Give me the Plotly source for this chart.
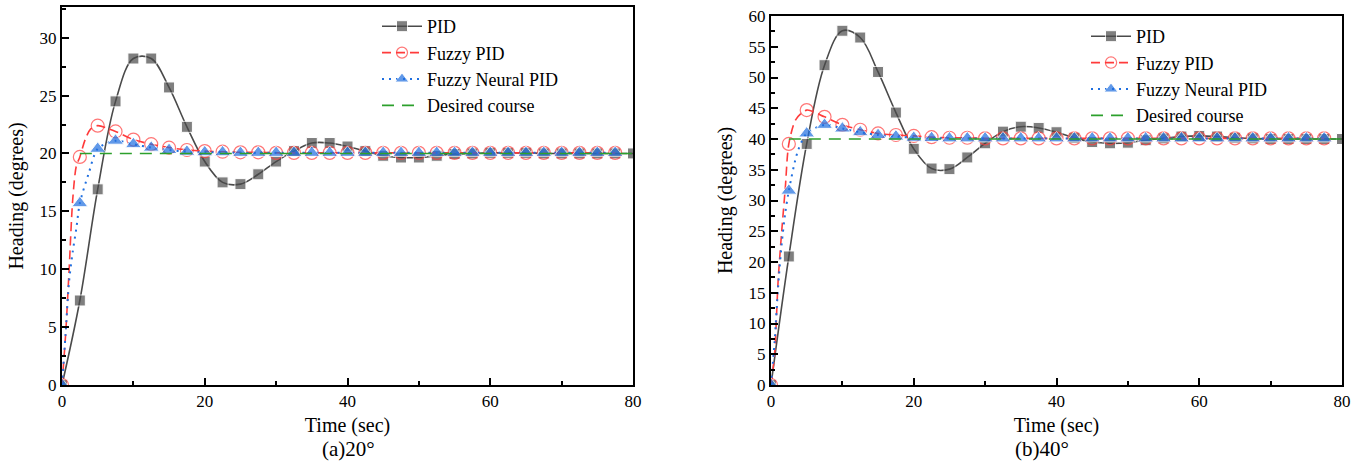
import plotly.graph_objects as go

# ---------------- data ----------------
t_grid = [i * 2.5 for i in range(33)]  # 0 .. 80 s

# (a) 20 deg
pid20 = [0, 7.3, 16.9, 24.5, 28.2, 28.2, 25.7, 22.3, 19.3, 17.5, 17.35, 18.2, 19.3,
         20.2, 20.9, 20.9, 20.6, 20.2, 19.8, 19.65, 19.65, 19.8, 19.95, 20.0, 20.05,
         20.05, 20.05, 20.0, 20.0, 20.0, 20.0, 20.0, 20.0]
fpid20_t = [0, 0.5, 1, 1.5, 2, 2.5, 3.25, 4, 5] + t_grid[3:]
fpid20 = [0, 4.3, 10, 16, 18.9, 19.7, 21.2, 22.1, 22.4, 21.9, 21.2, 20.8, 20.5, 20.3,
          20.2, 20.15, 20.1, 20.1, 20.05, 20.05, 20.05, 20.05, 20.05, 20.05, 20.05,
          20.05, 20.05, 20.05, 20.05, 20.05, 20.05, 20.05, 20.05, 20.05, 20.05, 20.05,
          20.05, 20.05]
fnpid20_t = [0, 0.5, 1, 1.5, 2, 2.5, 3.75, 5] + t_grid[3:]
fnpid20 = [0, 4.4, 9, 11.5, 13.5, 15.7, 18.3, 20.4, 21.1, 20.8, 20.5, 20.3, 20.15, 20.1,
           20.1, 20.05, 20.05, 20.05, 20.05, 20.05, 20.05, 20.05, 20.05, 20.05, 20.05,
           20.05, 20.05, 20.05, 20.05, 20.05, 20.05, 20.05, 20.05, 20.05, 20.05, 20.05,
           20.05]
desired_t = [2.5, 80]
desired20 = [20, 20]

# (b) 40 deg
pid40 = [0, 20.9, 39.2, 52.0, 57.6, 56.5, 50.9, 44.3, 38.4, 35.2, 35.1, 37.0, 39.3,
         41.2, 42.0, 41.8, 41.1, 40.2, 39.5, 39.3, 39.4, 39.8, 40.1, 40.4, 40.5, 40.4,
         40.2, 40.1, 40.0, 40.0, 40.0, 40.0, 40.0]
fpid40_t = [0, 0.5, 1, 1.5, 2, 2.5, 3.5, 5] + t_grid[3:]
fpid40 = [0, 5, 17, 25, 32, 39.2, 43.2, 44.7, 43.6, 42.3, 41.5, 40.9, 40.65, 40.5, 40.3,
          40.2, 40.2, 40.1, 40.1, 40.1, 40.1, 40.1, 40.1, 40.1, 40.1, 40.1, 40.1, 40.1,
          40.1, 40.1, 40.1, 40.1, 40.1, 40.1, 40.1, 40.1, 40.1]
fnpid40_t = [0, 0.5, 1, 1.5, 2, 2.5, 3.75, 5] + t_grid[3:]
fnpid40 = [0, 7, 16, 23, 28, 31.6, 38.0, 40.9, 42.3, 41.7, 41.1, 40.65, 40.4, 40.2,
           40.15, 40.1, 40.1, 40.1, 40.1, 40.1, 40.1, 40.1, 40.1, 40.1, 40.1, 40.1,
           40.1, 40.1, 40.1, 40.1, 40.1, 40.1, 40.1, 40.1, 40.1, 40.1, 40.1]
desired40 = [40, 40]

series_names = ["PID", "Fuzzy PID", "Fuzzy Neural PID", "Desired course"]
captions = ["(a)20°", "(b)40°"]

# ---------------- style ----------------
FONT = "Liberation Serif"
C_PID = "#4a4a4a"
C_FPID = "#ff3b3b"
C_FNPID = "#1f6fe0"
C_DES = "#2ca02c"


def msizes(ts, size):
    return [size if abs(t / 2.5 - round(t / 2.5)) < 1e-9 else 0 for t in ts]


fig = go.Figure()


def add_panel(xa, ya, leg, pid, ft, fy, nt, ny, des):
    fig.add_trace(go.Scatter(
        x=t_grid, y=pid, name=series_names[0], mode="lines+markers",
        line=dict(color=C_PID, width=1.6, shape="spline", smoothing=1.0),
        marker=dict(symbol="square", size=msizes(t_grid, 11), color=C_PID),
        xaxis=xa, yaxis=ya, legend=leg))
    fig.add_trace(go.Scatter(
        x=ft, y=fy, name=series_names[1], mode="lines+markers",
        line=dict(color=C_FPID, width=1.6, dash="9px,5px", shape="spline", smoothing=0.8),
        marker=dict(symbol="circle-open", size=msizes(ft, 13), color=C_FPID,
                    line=dict(width=1.2, color=C_FPID)),
        xaxis=xa, yaxis=ya, legend=leg))
    fig.add_trace(go.Scatter(
        x=nt, y=ny, name=series_names[2], mode="lines+markers",
        line=dict(color=C_FNPID, width=2, dash="2px,5px", shape="spline", smoothing=0.8),
        marker=dict(symbol="triangle-up", size=msizes(nt, 14), color=C_FNPID),
        xaxis=xa, yaxis=ya, legend=leg))
    fig.add_trace(go.Scatter(
        x=desired_t, y=des, name=series_names[3], mode="lines",
        line=dict(color=C_DES, width=1.6, dash="12px,8px"),
        xaxis=xa, yaxis=ya, legend=leg))


add_panel("x", "y", "legend", pid20, fpid20_t, fpid20, fnpid20_t, fnpid20, desired20)
add_panel("x2", "y2", "legend2", pid40, fpid40_t, fpid40, fnpid40_t, fnpid40, desired40)

W, H = 1365, 468

axis_common = dict(
    showline=True, linecolor="black", linewidth=2, mirror=True,
    ticks="inside", ticklen=7, tickwidth=2, tickcolor="black",
    showgrid=False, zeroline=False, automargin=False,
    tickfont=dict(family=FONT, size=17, color="black"),
)

xcommon = dict(axis_common, range=[0, 80], dtick=20, tick0=0,
               minor=dict(ticks="inside", ticklen=4, tickwidth=2, dtick=10, tickcolor="black"),
               title=dict(text="Time (sec)", font=dict(family=FONT, size=20, color="black"),
                          standoff=8))

ycommon = dict(axis_common, dtick=5, tick0=0,
               minor=dict(ticks="inside", ticklen=4, tickwidth=2, dtick=2.5, tickcolor="black"),
               title=dict(text="Heading (degrees)", font=dict(family=FONT, size=20, color="black"),
                          standoff=11))

legend_common = dict(xanchor="left", yanchor="top", bgcolor="rgba(0,0,0,0)",
                     font=dict(family=FONT, size=18, color="black"),
                     tracegroupgap=0, itemwidth=40)

fig.update_layout(
    width=W, height=H,
    margin=dict(l=0, r=0, t=0, b=0, autoexpand=False),
    paper_bgcolor="white", plot_bgcolor="white",
    xaxis=dict(xcommon, domain=[62 / W, 633 / W], anchor="y"),
    yaxis=dict(ycommon, domain=[(H - 385) / H, (H - 7) / H], anchor="x", range=[0, 32.65]),
    xaxis2=dict(xcommon, domain=[771 / W, 1342 / W], anchor="y2"),
    yaxis2=dict(ycommon, domain=[(H - 385) / H, (H - 16) / H], anchor="x2", range=[0, 60]),
    legend=dict(legend_common, x=377 / W, y=(H - 8) / H),
    legend2=dict(legend_common, x=1086 / W, y=(H - 18) / H),
    showlegend=True,
    annotations=[
        dict(text=captions[0], x=348 / W, y=(H - 449) / H, xref="paper", yref="paper",
             xanchor="center", yanchor="middle",
             showarrow=False, font=dict(family=FONT, size=21, color="black")),
        dict(text=captions[1], x=1042 / W, y=(H - 449) / H, xref="paper", yref="paper",
             xanchor="center", yanchor="middle",
             showarrow=False, font=dict(family=FONT, size=21, color="black")),
    ],
)

fig.write_html("out.html", config={"displayModeBar": False},
               post_script="document.body.style.margin='0';")
